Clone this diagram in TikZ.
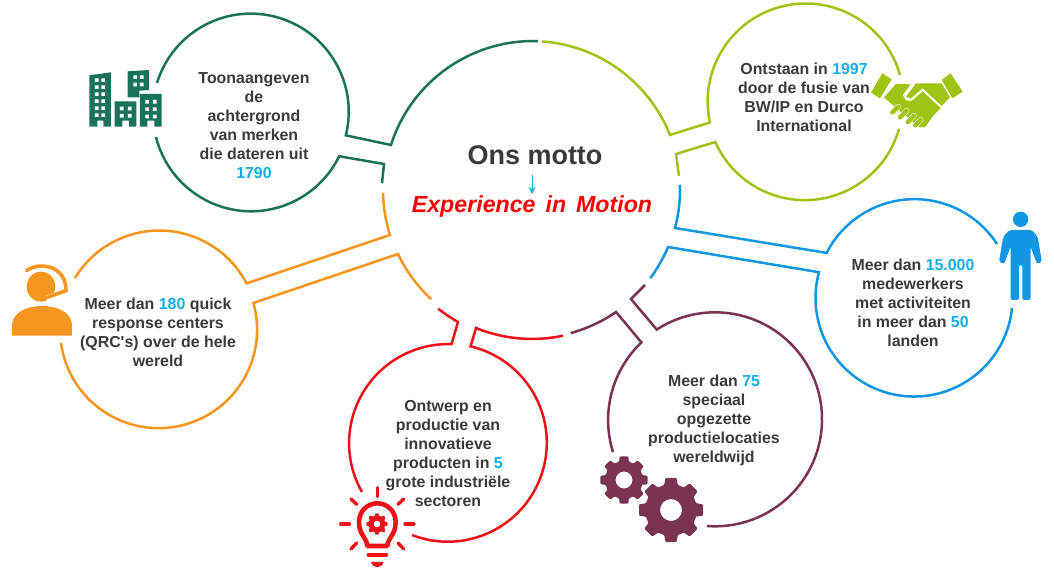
\documentclass[tikz,border=0pt]{standalone}
\usepackage{fontspec}
\setmainfont{Liberation Sans}
\usetikzlibrary{arrows.meta}
\definecolor{gogreen}{HTML}{1A7358}
\definecolor{golime}{HTML}{A0C414}
\definecolor{goblue}{HTML}{1096E2}
\definecolor{goorange}{HTML}{F7961F}
\definecolor{gored}{HTML}{EE1118}
\definecolor{gomaroon}{HTML}{7A3350}
\definecolor{numblue}{HTML}{12AEE8}
\definecolor{txtgray}{HTML}{3A3A3A}
\newcommand{\hlnum}[1]{\textcolor{numblue}{#1}}
\newcommand{\gearicon}[3]{%
  \fill [even odd rule, rounded corners=1pt] (-15:#2)
    \foreach \a in {0,45,...,315} { -- ({\a-10}:#1) -- ({\a+10}:#1) -- ({\a+15}:#2) -- ({\a+30}:#2) } -- cycle
    (0,0) circle [radius=#3];
}
\tikzset{
  bubline/.style={line width=2.5pt},
  bubtext/.style={align=center, inner sep=0pt, text=txtgray, font=\fontsize{15.9}{19}\selectfont\bfseries},
  zoomed/.style={x=.3333pt, y=-.3333pt}
}
\begin{document}
\begin{tikzpicture}[x=1pt, y=1pt, >=stealth]
    \useasboundingbox (0,0) rectangle (1054,-572);

    % green bubble
    \draw [bubline, gogreen] (157,-83) arc [start angle=163, end angle=-14, radius=98] -- (391,-145) arc [start angle=162.4, end angle=88, radius=149];
    \draw [bubline, gogreen] (156,-137) arc [start angle=194, end angle=334, radius=98] -- (384,-164) -- (382,-183);
    % lime bubble
    \draw [bubline, golime] (900,-75) arc [start angle=15.7, end angle=192.3, radius=98] -- (670,-135) arc [start angle=21.7, end angle=86, radius=149];
    \draw [bubline, golime] (899,-129) arc [start angle=-15.9, end angle=-156, radius=98] -- (676,-154) -- (679,-176);
    % blue bubble
    \draw [bubline, goblue] (997,-244) arc [start angle=33, end angle=153, radius=98.5] -- (675,-228) arc [start angle=-14.9, end angle=1.9, radius=149];
    \draw [bubline, goblue] (1012,-308) arc [start angle=-5.8, end angle=-195.2, radius=98.5] -- (668,-247) arc [start angle=-22.7, end angle=-36.5, radius=149];
    % maroon bubble
    \draw [bubline, gomaroon] (613,-452) arc [start angle=197.4, end angle=133.5, radius=107] -- (616,-312) arc [start angle=-55.4, end angle=-74.7, radius=149];
    \draw [bubline, gomaroon] (707,-526) arc [start angle=265.7, end angle=483, radius=107] -- (631,-299) -- (645,-285);
    % red bubble
    \draw [bubline, gored] (362,-492) arc [start angle=209.6, end angle=88, radius=99] -- (458,-322) arc [start angle=240.7, end angle=231.5, radius=149];
    \draw [bubline, gored] (412,-535) arc [start angle=248.8, end angle=436.7, radius=99] -- (476,-328) arc [start angle=247.9, end angle=282, radius=149];
    % orange bubble
    \draw [bubline, goorange] (75,-278) arc [start angle=148.8, end angle=27.6, radius=98.5] -- (390,-235) arc [start angle=197.6, end angle=181.1, radius=149];
    \draw [bubline, goorange] (61,-343) arc [start angle=187.8, end angle=375.7, radius=98.5] -- (398,-254) arc [start angle=205.5, end angle=227.2, radius=149];

    % texts
    \node (motto) at (535,-155) [inner sep=0pt, text=txtgray, font=\fontsize{27}{30}\selectfont\bfseries] {Ons motto};
    \node (slogan) at (532,-207) [inner sep=0pt, text=red, font=\fontsize{23.2}{26}\selectfont\bfseries\itshape] {Experience\hspace{3.5pt} in\hspace{3.5pt} Motion};
    \draw [-{Stealth[length=7pt, width=7pt]}, numblue, line width=.8pt, shorten <=10pt, shorten >=2pt] (slogan.north |- motto.south) -- (slogan.north);

    \node (txtgreen) at (254,-126) [bubtext] {Toonaangeven\\de\\achtergrond\\van merken\\die dateren uit\\\hlnum{1790}};
    \node (txtlime) at (804,-97) [bubtext] {Ontstaan in \hlnum{1997}\\door de fusie van\\BW/IP en Durco\\International};
    \node (txtblue) at (913,-303) [bubtext] {Meer dan \hlnum{15.000}\\medewerkers\\met activiteiten\\in meer dan \hlnum{50}\\landen};
    \node (txtorange) at (158,-332) [bubtext] {Meer dan \hlnum{180} quick\\response centers\\(QRC\textquotesingle s) over de hele\\wereld};
    \node (txtred) at (448,-454) [bubtext] {Ontwerp en\\productie van\\innovatieve\\producten in \hlnum{5}\\grote industriële\\sectoren};
    \node (txtmaroon) at (714,-420) [bubtext] {Meer dan \hlnum{75}\\speciaal\\opgezette\\productielocaties\\wereldwijd};

    % buildings
    \begin{scope}[shift={(60,0)}, zoomed, gogreen]
        \fill (88,226) -- (153,217) -- (153,380) -- (130,380) -- (130,362) -- (112,362) -- (112,380) -- (88,380) -- cycle;
        \fill (203,214) -- (267,210) -- (267,270) -- (238,272) -- (238,292) -- (203,292) -- cycle;
        \fill (164,304) -- (229,304) -- (229,380) -- (207,380) -- (207,362) -- (187,362) -- (187,380) -- (164,380) -- cycle;
        \fill (240,282) -- (305,282) -- (305,380) -- (283,380) -- (283,362) -- (262,362) -- (262,380) -- (240,380) -- cycle;
        \foreach \wy in {240,261,282,303,324,345} {
            \fill [white] (105,\wy-5) rectangle +(11,11) (124,\wy-5) rectangle +(11,11);
        }
        \foreach \wy in {226,248} {
            \fill [white] (220,\wy) rectangle +(11,11) (240,\wy) rectangle +(11,11);
        }
        \foreach \wy in {320,342} {
            \fill [white] (180,\wy) rectangle +(11,11) (204,\wy) rectangle +(11,11);
        }
        \foreach \wy in {300,322,344} {
            \fill [white] (256,\wy) rectangle +(11,11) (279,\wy) rectangle +(11,11);
        }
    \end{scope}

    % handshake
    \begin{scope}[shift={(640,-20)}, zoomed, golime]
        \fill (727,160) -- (755,178) -- (720,235) -- (693,218) -- cycle;
        \fill (932,160) -- (968,215) -- (937,235) -- (905,180) -- cycle;
        \fill (798,230) -- (828,190) -- (905,190) -- (930,232) -- (905,258) -- (848,205) -- (812,236) -- cycle;
        \fill (732,232) -- (768,192) -- (812,193) -- (788,225) -- (798,241) -- (815,243) -- (848,214) -- (902,264) -- (880,287) -- (855,322) -- (838,322) -- (752,250) -- cycle;
        \foreach \fx/\fy/\gx/\gy in {757/277/775/260, 780/292/800/272, 804/306/822/287, 826/316/842/299} {
            \draw [white, line width=5.4pt, line cap=round] (\fx,\fy) -- (\gx,\gy);
            \draw [golime, line width=4.4pt, line cap=round] (\fx,\fy) -- (\gx,\gy);
        }
    \end{scope}

    % person
    \begin{scope}[shift={(640,-190)}, zoomed, goblue]
        \fill (1142,88) circle [x radius=23, y radius=23];
        \fill [rounded corners=2pt] (1112,330) -- (1112,170) -- (1092,222) -- (1077,216) -- (1090,140) -- (1108,120) -- (1176,120) -- (1193,140) -- (1206,216) -- (1191,222) -- (1172,170) -- (1172,330) -- (1147,330) -- (1147,225) -- (1137,225) -- (1137,330) -- cycle;
    \end{scope}

    % headset
    \begin{scope}[shift={(0,-220)}, zoomed, goorange]
        \fill (36,347) -- (36,312) .. controls (40,275) and (85,258) .. (125,258) .. controls (170,258) and (212,275) .. (216,312) -- (216,347) -- cycle;
        \fill (123,200) circle [x radius=43, y radius=45];
        \draw [white, line width=5.5pt] (202,212) -- (140,235);
        \draw [line width=3.6pt, line cap=round] (80,152) .. controls (100,135) and (150,130) .. (178,158) .. controls (190,170) and (198,185) .. (198,212) -- (142,232);
    \end{scope}

    % bulb
    \begin{scope}[shift={(330,-300)}, zoomed, gored]
        \draw [line width=4.6pt, line join=round] (112,738) .. controls (110,712) and (87,705) .. (87,666) .. controls (87,634) and (112,610) .. (142,610) .. controls (172,610) and (197,634) .. (197,666) .. controls (197,705) and (174,712) .. (172,738) -- cycle;
        \foreach \rx/\ry/\sx/\sy in {142/563/142/590, 63/597/80/613, 221/597/204/613, 32/672/58/672, 225/672/252/672, 63/747/80/729, 221/747/204/729} {
            \draw [line width=3.4pt, line cap=round] (\rx,\ry) -- (\sx,\sy);
        }
        \draw [line width=3.6pt, line cap=round] (115,765) -- (169,765);
        \fill (123,786) -- (161,786) .. controls (158,796) and (150,802) .. (142,802) .. controls (134,802) and (126,796) .. (123,786) -- cycle;
    \end{scope}
    \begin{scope}[shift={(377,-524)}, gored]
        \gearicon{10.8}{8.2}{3.4}
    \end{scope}

    % gears
    \begin{scope}[shift={(624,-480)}, gomaroon]
        \gearicon{24}{19}{8.5}
    \end{scope}
    \begin{scope}[shift={(671,-510)}, gomaroon]
        \gearicon{32.5}{26}{11}
    \end{scope}
\end{tikzpicture}
\end{document}
